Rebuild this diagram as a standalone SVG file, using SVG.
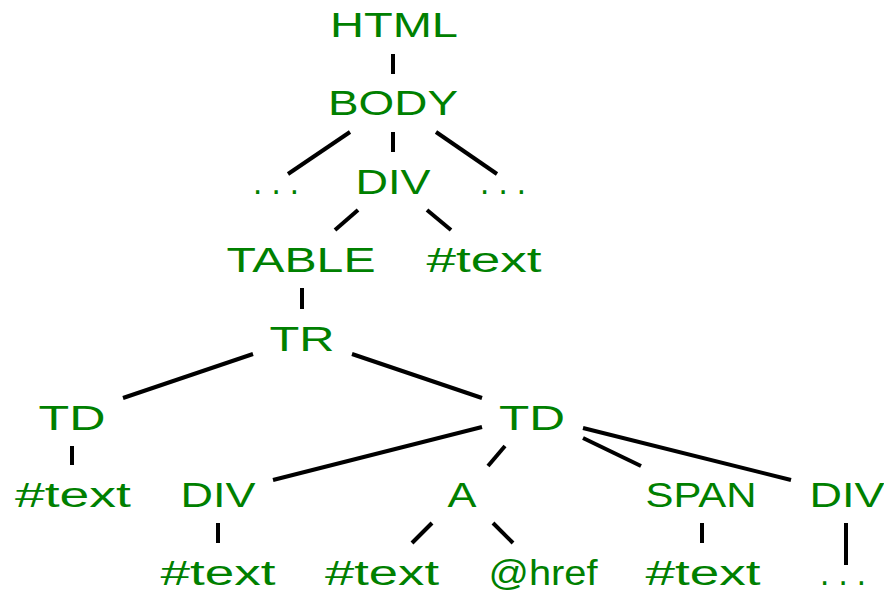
<svg xmlns="http://www.w3.org/2000/svg" width="884" height="592" viewBox="0 0 884 592">
  <style>
    .lbl { font-family: "Liberation Sans", Arial, sans-serif; font-size: 35px; fill: #008000; text-anchor: middle; }
    .edge { stroke: #000; stroke-width: 4; fill: none; }
  </style>
  <rect width="884" height="592" fill="#fff"/>

  <!-- tree edges -->
  <g id="edges" class="edge">
    <line x1="393" y1="54" x2="393" y2="74"/>
    <line x1="350" y1="132" x2="288" y2="174"/>
    <line x1="393" y1="132" x2="393" y2="152"/>
    <line x1="436" y1="132" x2="497" y2="174"/>
    <line x1="358" y1="210" x2="335" y2="230"/>
    <line x1="427" y1="210" x2="451" y2="230"/>
    <line x1="302" y1="288" x2="302" y2="309"/>
    <line x1="253" y1="354" x2="123" y2="398"/>
    <line x1="352" y1="354" x2="482" y2="398"/>
    <line x1="72" y1="446" x2="72" y2="465"/>
    <line x1="482" y1="427" x2="273" y2="480"/>
    <line x1="505" y1="446" x2="488" y2="466"/>
    <line x1="583" y1="438" x2="641" y2="466"/>
    <line x1="583" y1="428" x2="791" y2="480"/>
    <line x1="218" y1="523" x2="218" y2="543"/>
    <line x1="432" y1="523" x2="412" y2="543"/>
    <line x1="493" y1="523" x2="513" y2="543"/>
    <line x1="702" y1="523" x2="702" y2="543"/>
    <line x1="846" y1="523" x2="846" y2="565"/>
  </g>

  <!-- nodes -->
  <g id="n-html"><text class="lbl" x="394" y="37" textLength="128" lengthAdjust="spacingAndGlyphs">HTML</text></g>
  <g id="n-body"><text class="lbl" x="393" y="115" textLength="130" lengthAdjust="spacingAndGlyphs">BODY</text></g>
  <g id="n-dots-left"><text class="lbl" x="276" y="194" textLength="46" lengthAdjust="spacingAndGlyphs">. . .</text></g>
  <g id="n-div1"><text class="lbl" x="393" y="194" textLength="75" lengthAdjust="spacingAndGlyphs">DIV</text></g>
  <g id="n-dots-right"><text class="lbl" x="503" y="194" textLength="46" lengthAdjust="spacingAndGlyphs">. . .</text></g>
  <g id="n-table"><text class="lbl" x="301" y="272" textLength="149" lengthAdjust="spacingAndGlyphs">TABLE</text></g>
  <g id="n-text1"><text class="lbl" x="484" y="272" textLength="115" lengthAdjust="spacingAndGlyphs">#text</text></g>
  <g id="n-tr"><text class="lbl" x="302" y="351" textLength="65" lengthAdjust="spacingAndGlyphs">TR</text></g>
  <g id="n-td1"><text class="lbl" x="72" y="430" textLength="67" lengthAdjust="spacingAndGlyphs">TD</text></g>
  <g id="n-td2"><text class="lbl" x="532" y="430" textLength="66" lengthAdjust="spacingAndGlyphs">TD</text></g>
  <g id="n-text2"><text class="lbl" x="73" y="507" textLength="116" lengthAdjust="spacingAndGlyphs">#text</text></g>
  <g id="n-div2"><text class="lbl" x="218" y="507" textLength="75" lengthAdjust="spacingAndGlyphs">DIV</text></g>
  <g id="n-a"><text class="lbl" x="462" y="507" textLength="29" lengthAdjust="spacingAndGlyphs">A</text></g>
  <g id="n-span"><text class="lbl" x="701" y="507" textLength="111" lengthAdjust="spacingAndGlyphs">SPAN</text></g>
  <g id="n-div3"><text class="lbl" x="847" y="507" textLength="75" lengthAdjust="spacingAndGlyphs">DIV</text></g>
  <g id="n-text3"><text class="lbl" x="218" y="585" textLength="115" lengthAdjust="spacingAndGlyphs">#text</text></g>
  <g id="n-text4"><text class="lbl" x="382" y="585" textLength="114" lengthAdjust="spacingAndGlyphs">#text</text></g>
  <g id="n-href"><text class="lbl" x="543" y="585" textLength="109" lengthAdjust="spacingAndGlyphs">@href</text></g>
  <g id="n-text5"><text class="lbl" x="703" y="585" textLength="115" lengthAdjust="spacingAndGlyphs">#text</text></g>
  <g id="n-dots-bottom"><text class="lbl" x="843" y="585" textLength="46" lengthAdjust="spacingAndGlyphs">. . .</text></g>
</svg>
